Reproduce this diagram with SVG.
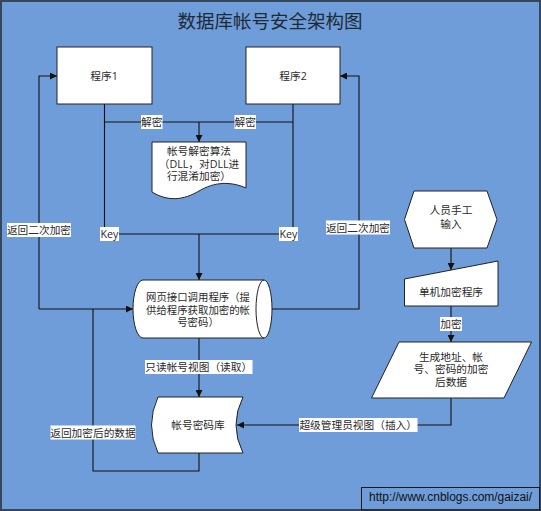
<svg xmlns="http://www.w3.org/2000/svg" width="541" height="511" viewBox="0 0 541 511">
<defs>
<marker id="ah" viewBox="0 0 10 10" refX="10" refY="5" markerWidth="7" markerHeight="7" markerUnits="userSpaceOnUse" orient="auto">
<path d="M0,0 L10,5 L0,10 Z" fill="#111"/>
</marker>
<style>
.bg{fill:#6f9dd9;stroke:#34475c;stroke-width:2}
.shape{fill:#fff;stroke:#222;stroke-width:1}
.line{fill:none;stroke:#111;stroke-width:1.1}
.arr{fill:none;stroke:#111;stroke-width:1.1;marker-end:url(#ah)}
.t{font-family:"Open Sans","Noto Sans CJK SC",sans-serif;font-size:10.7px;fill:#2a2a2a;text-anchor:middle;dominant-baseline:central}
.ts{font-size:10.4px}
.lbg{fill:#fff}
.title{font-family:"Noto Sans CJK SC",sans-serif;font-size:18.5px;fill:#1e2a36;text-anchor:middle;dominant-baseline:central}
.url{font-family:"Liberation Sans",sans-serif;font-size:12px;fill:#111;dominant-baseline:central}
</style>
</defs>
<rect class="bg" x="1" y="1" width="539" height="509"/>
<text class="title" x="270" y="20">数据库帐号安全架构图</text>

<g id="connectors">
<path class="line" d="M104.5,104 V234 H293 V104"/>
<path class="line" d="M104.5,122 H293"/>
<path class="arr" d="M199,122 V142"/>
<path class="arr" d="M199,234 V280"/>
<path class="arr" d="M39,309 H133"/>
<path class="arr" d="M39,309 V76 H57"/>
<path class="arr" d="M272,309 H359 V76 H340"/>
<path class="arr" d="M199,338 V397"/>
<path class="line" d="M199,453 V471 H93 V309"/>
<path class="arr" d="M451,248 V270"/>
<path class="arr" d="M451,306 V342"/>
<path class="arr" d="M451,398 V425 H237"/>
</g>

<g id="labels">
<rect class="lbg" x="141" y="115" width="21.5" height="14"/><text class="t" x="151.8" y="122">解密</text>
<rect class="lbg" x="234.5" y="115" width="21.5" height="14"/><text class="t" x="245.3" y="122">解密</text>
<rect class="lbg" x="100" y="227" width="19" height="14"/><text class="t" x="109.5" y="234">Key</text>
<rect class="lbg" x="279" y="227" width="19" height="14"/><text class="t" x="288.5" y="234">Key</text>
<rect class="lbg" x="7" y="223" width="64" height="14"/><text class="t" x="39" y="230">返回二次加密</text>
<rect class="lbg" x="326" y="220.5" width="64" height="14"/><text class="t" x="358" y="227.5">返回二次加密</text>
<rect class="lbg" x="440" y="317" width="22" height="14"/><text class="t" x="451" y="324">加密</text>
<rect class="lbg" x="145" y="360" width="107.5" height="14"/><text class="t" x="198.7" y="367">只读帐号视图（读取）</text>
<rect class="lbg" x="299" y="418" width="118.5" height="14"/><text class="t" x="358.2" y="425">超级管理员视图（插入）</text>
<rect class="lbg" x="50.5" y="425.5" width="85" height="14"/><text class="t" x="93" y="432.5">返回加密后的数据</text>
</g>

<g id="prog1">
<rect class="shape" x="57" y="47" width="95" height="57"/>
<text class="t" x="104" y="76">程序1</text>
</g>
<g id="prog2">
<rect class="shape" x="246" y="47" width="94" height="57"/>
<text class="t" x="293" y="76">程序2</text>
</g>
<g id="dll">
<path class="shape" d="M152,142 H246 V188 C230,181 214,182 199,191 C184,200 168,202 152,192 Z"/>
<text class="t" x="199" y="151">帐号解密算法</text>
<text class="t" x="199" y="163.5">（DLL，对DLL进</text>
<text class="t" x="199" y="176">行混淆加密）</text>
</g>
<g id="web">
<path class="shape" d="M143,280 H264 A8,29 0 0 1 264,338 H143 A10,29 0 0 1 143,280 Z"/>
<path class="line" style="stroke:#222;stroke-width:1" d="M264,280 A8,29 0 0 0 264,338"/>
<text class="t ts" x="198" y="297">网页接口调用程序（提</text>
<text class="t ts" x="198" y="309.5">供给程序获取加密的帐</text>
<text class="t ts" x="198" y="322">号密码）</text>
</g>
<g id="db">
<path class="shape" d="M158,397 H243 Q229,425 243,453 H158 Q145,425 158,397 Z"/>
<text class="t" x="198" y="424.5">帐号密码库</text>
</g>
<g id="manual">
<polygon class="shape" points="414,191 487,191 497,219.5 487,248 414,248 404.5,219.5"/>
<text class="t" x="451" y="210">人员手工</text>
<text class="t" x="451" y="224">输入</text>
</g>
<g id="encprog">
<polygon class="shape" points="404.5,279 498,261 498,306 404.5,306"/>
<text class="t" x="451" y="292">单机加密程序</text>
</g>
<g id="encdata">
<polygon class="shape" points="399,342 531.5,342 504,398 371.5,398"/>
<text class="t" x="451" y="356.5">生成地址、帐</text>
<text class="t" x="451" y="369.3">号、密码的加密</text>
<text class="t" x="451" y="381.8">后数据</text>
</g>
<g id="url">
<rect x="361.5" y="487.5" width="178" height="22.5" fill="none" stroke="#1a1a1a" stroke-width="1"/>
<text class="url" x="369" y="497" textLength="163">http://www.cnblogs.com/gaizai/</text>
</g>
</svg>
